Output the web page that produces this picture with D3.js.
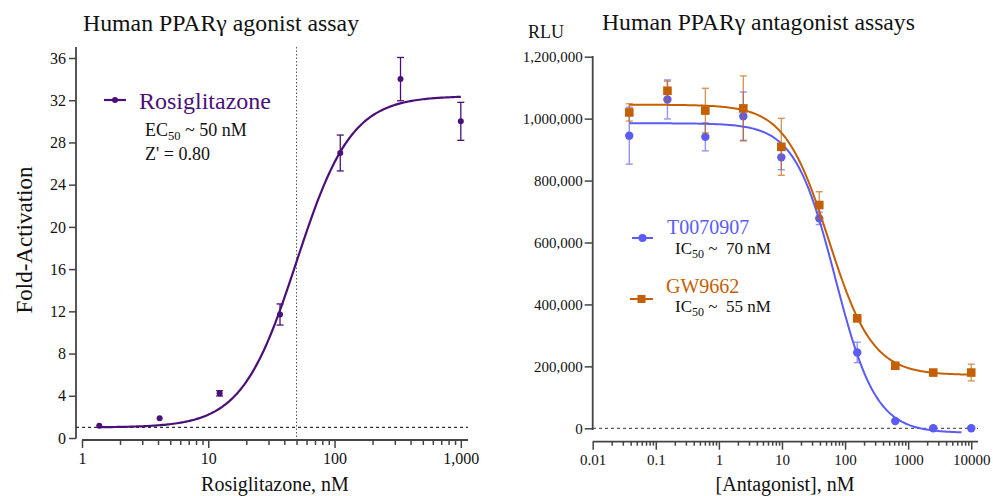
<html lang="en">
<head>
<meta charset="UTF-8">
<title>PPARg assays</title>
<script src="https://d3js.org/d3.v7.min.js"></script>
<style>
  body { margin: 0; background: #fff; }
  svg text { font-family: "Liberation Serif", "Times New Roman", serif; fill: #111; }
</style>
</head>
<body>
<svg id="chart" width="993" height="496"></svg>
<script>
// ---- agonist panel data (Rosiglitazone, 3-fold dilution) ----
const agoConc = [1.37, 4.12, 12.3, 37, 111, 333, 1000];
const agoFold = [1.17, 1.87, 4.23, 11.7, 27.0, 34.0, 30.0];
const agoErr  = [0.1, 0.1, 0.25, 1.0, 1.7, 2.05, 1.8];
// fit: bottom, top, EC50, hill
const agoFit  = [1.0, 32.4, 50, 2.0];
const agoYTicks = [0, 4, 8, 12, 16, 20, 24, 28, 32, 36];
const agoXTicks = [1, 10, 100, 1000];
const agoXLabels = ["1", "10", "100", "1,000"];

// ---- antagonist panel data (4-fold dilution) ----
const antConc = [0.038, 0.153, 0.61, 2.44, 9.77, 39, 156, 625, 2500, 10000];
const t007Rlu = [945000, 1062000, 941000, 1008000, 875000, 678000, 245000, 23600, 0, 0];
const t007Err = [92000, 63000, 45000, 78000, 40000, 20000, 33000, 0, 0, 0];
const gw96Rlu = [1020000, 1090000, 1026000, 1033000, 909000, 721000, 355000, 202000, 180000, 180000];
const gw96Err = [28000, 31000, 72000, 105000, 92000, 43000, 8000, 6000, 6000, 27000];
// fit: bottom, top, IC50, hill, last x of curve
const t007Fit = [-15000, 985000, 70, 1.35, 7000];
const gw96Fit = [172000, 1045000, 55, 1.25, 10000];
const antYTicks = [0, 200000, 400000, 600000, 800000, 1000000, 1200000];
const antXTicks = [0.01, 0.1, 1, 10, 100, 1000, 10000];
const antXLabels = ["0.01", "0.1", "1", "10", "100", "1000", "10000"];

const purple = "#4a1078", blue = "#5b5bf7", orange = "#c45f04", axisCol = "#444";

const svg = d3.select("#chart");

function logistic(p, x, falling) {
  // 4PL curve from the fitted parameters
  const r = Math.pow(p[2] / x, p[3]);
  return falling ? p[0] + (p[1] - p[0]) / (1 + 1 / r) : p[0] + (p[1] - p[0]) / (1 + r);
}

function curvePts(p, x0, x1, falling) {
  let pts = [];
  let a = Math.log10(x0), b = Math.log10(x1);
  for (let i = 0; i <= 200; i++) {
    let xv = Math.pow(10, a + (b - a) * i / 200);
    pts.push([xv, logistic(p, xv, falling)]);
  }
  return pts;
}

function styleTicks(g, size) {
  g.select(".domain").remove();
  g.selectAll("line").attr("stroke", axisCol).attr("stroke-width", 1.5);
  g.selectAll("text").attr("font-size", size).attr("fill", "#111")
    .style("font-family", '"Liberation Serif", serif');
}

// ================= LEFT PANEL =================
var xL = d3.scaleLog().domain([1, 1140]).range([82, 468]);
var yL = d3.scaleLinear().domain([0, 36]).range([438, 58]);

svg.append("text").attr("x", 83).attr("y", 31).attr("font-size", 23.8)
  .text("Human PPARγ agonist assay");

// y axis
svg.append("line").attr("x1", 76).attr("x2", 76).attr("y1", 47).attr("y2", 438.5)
  .attr("stroke", axisCol).attr("stroke-width", 1.8);
svg.append("g").attr("transform", "translate(76,0)")
  .call(d3.axisLeft(yL).tickValues(agoYTicks).tickSize(7).tickPadding(3))
  .call(g => styleTicks(g, 16));

// x axis
svg.append("line").attr("x1", 82).attr("x2", 468).attr("y1", 440).attr("y2", 440)
  .attr("stroke", axisCol).attr("stroke-width", 1.8);
svg.append("g").attr("transform", "translate(0,440)")
  .call(d3.axisBottom(xL).tickValues(xL.ticks().filter(d => agoXTicks.indexOf(d) < 0)).tickSize(5).tickFormat(""))
  .call(g => styleTicks(g, 16));
svg.append("g").attr("transform", "translate(0,440)")
  .call(d3.axisBottom(xL).tickValues(agoXTicks).tickSize(8).tickPadding(5)
    .tickFormat((d, i) => agoXLabels[i]))
  .call(g => styleTicks(g, 16));

// reference lines
svg.append("line").attr("x1", 76).attr("x2", 468).attr("y1", yL(1)).attr("y2", yL(1))
  .attr("stroke", "#333").attr("stroke-width", 1.2).attr("stroke-dasharray", "3,3");
svg.append("line").attr("x1", xL(50)).attr("x2", xL(50)).attr("y1", 47).attr("y2", 438)
  .attr("stroke", "#555").attr("stroke-width", 1).attr("stroke-dasharray", "1.5,2");

// fit curve
var lineL = d3.line().x(d => xL(d[0])).y(d => yL(d[1]));
svg.append("path").datum(curvePts(agoFit, agoConc[0], agoConc[agoConc.length - 1], false))
  .attr("d", lineL).attr("fill", "none").attr("stroke", purple).attr("stroke-width", 2.2);

// error bars + points
agoConc.forEach((c, i) => {
  let cx = xL(c);
  if (agoErr[i] > 0.15) {
    let y1 = yL(agoFold[i] + agoErr[i]), y2 = yL(agoFold[i] - agoErr[i]);
    svg.append("line").attr("x1", cx).attr("x2", cx).attr("y1", y1).attr("y2", y2)
      .attr("stroke", purple).attr("stroke-width", 1.3);
    [y1, y2].forEach(yy => svg.append("line").attr("x1", cx - 3.5).attr("x2", cx + 3.5)
      .attr("y1", yy).attr("y2", yy).attr("stroke", purple).attr("stroke-width", 1.3));
  }
  svg.append("circle").attr("cx", cx).attr("cy", yL(agoFold[i])).attr("r", 3).attr("fill", purple);
});

// legend
svg.append("line").attr("x1", 104).attr("x2", 126).attr("y1", 100).attr("y2", 100)
  .attr("stroke", purple).attr("stroke-width", 2.2);
svg.append("circle").attr("cx", 115).attr("cy", 100).attr("r", 3).attr("fill", purple);
svg.append("text").attr("x", 139).attr("y", 109).attr("font-size", 24).attr("fill", purple)
  .style("fill", purple).text("Rosiglitazone");
var ec = svg.append("text").attr("x", 145).attr("y", 136).attr("font-size", 18);
ec.append("tspan").text("EC");
ec.append("tspan").attr("font-size", 12.5).attr("dy", 4).text("50");
ec.append("tspan").attr("dy", -4).text(" ~ 50 nM");
svg.append("text").attr("x", 145).attr("y", 160).attr("font-size", 18).text("Z' = 0.80");

svg.append("text").attr("transform", "translate(32,240) rotate(-90)")
  .attr("text-anchor", "middle").attr("font-size", 23).text("Fold-Activation");
svg.append("text").attr("x", 275).attr("y", 491).attr("text-anchor", "middle")
  .attr("font-size", 20).text("Rosiglitazone, nM");

// ================= RIGHT PANEL =================
var xR = d3.scaleLog().domain([0.01, 12800]).range([592.7, 978]);
var yR = d3.scaleLinear().domain([0, 1200000]).range([428.3, 56.7]);

svg.append("text").attr("x", 602).attr("y", 30).attr("font-size", 23.7)
  .text("Human PPARγ antagonist assays");
svg.append("text").attr("x", 528).attr("y", 38).attr("font-size", 18).text("RLU");

svg.append("line").attr("x1", 592.7).attr("x2", 592.7).attr("y1", 56).attr("y2", 430)
  .attr("stroke", axisCol).attr("stroke-width", 1.8);
svg.append("g").attr("transform", "translate(592.7,0)")
  .call(d3.axisLeft(yR).tickValues(antYTicks).tickSize(8).tickPadding(2).tickFormat(d3.format(",")))
  .call(g => styleTicks(g, 15));

svg.append("line").attr("x1", 592.7).attr("x2", 978).attr("y1", 441.7).attr("y2", 441.7)
  .attr("stroke", axisCol).attr("stroke-width", 1.8);
svg.append("g").attr("transform", "translate(0,441.7)")
  .call(d3.axisBottom(xR).tickValues(xR.ticks().filter(d => antXTicks.indexOf(d) < 0)).tickSize(4).tickFormat(""))
  .call(g => styleTicks(g, 15));
svg.append("g").attr("transform", "translate(0,441.7)")
  .call(d3.axisBottom(xR).tickValues(antXTicks).tickSize(8).tickPadding(5)
    .tickFormat((d, i) => antXLabels[i]))
  .call(g => styleTicks(g, 15));

svg.append("line").attr("x1", 593).attr("x2", 978).attr("y1", yR(0)).attr("y2", yR(0))
  .attr("stroke", "#333").attr("stroke-width", 1).attr("stroke-dasharray", "3,3");

var lineR = d3.line().x(d => xR(d[0])).y(d => yR(d[1]));

function drawSeries(vals, errs, fit, col, marker) {
  svg.append("path").datum(curvePts(fit, antConc[0], fit[4], true))
    .attr("d", lineR).attr("fill", "none").attr("stroke", col).attr("stroke-width", 2);
  antConc.forEach((c, i) => {
    let cx = xR(c);
    if (errs[i] > 10000) {
      let y1 = yR(vals[i] + errs[i]), y2 = yR(vals[i] - errs[i]);
      let g = svg.append("g").attr("opacity", 0.65);
      g.append("line").attr("x1", cx).attr("x2", cx).attr("y1", y1).attr("y2", y2)
        .attr("stroke", col).attr("stroke-width", 1.4);
      [y1, y2].forEach(yy => g.append("line").attr("x1", cx - 3.5).attr("x2", cx + 3.5)
        .attr("y1", yy).attr("y2", yy).attr("stroke", col).attr("stroke-width", 1.4));
    }
    if (marker == "circle") {
      svg.append("circle").attr("cx", cx).attr("cy", yR(vals[i])).attr("r", 4.2).attr("fill", col);
    } else {
      svg.append("rect").attr("x", cx - 4.3).attr("y", yR(vals[i]) - 4.3)
        .attr("width", 8.6).attr("height", 8.6).attr("fill", col);
    }
  });
}
drawSeries(t007Rlu, t007Err, t007Fit, blue, "circle");
drawSeries(gw96Rlu, gw96Err, gw96Fit, orange, "square");

// legend
svg.append("line").attr("x1", 632).attr("x2", 653).attr("y1", 238).attr("y2", 238)
  .attr("stroke", blue).attr("stroke-width", 2);
svg.append("circle").attr("cx", 642.5).attr("cy", 238).attr("r", 4).attr("fill", blue);
svg.append("text").attr("x", 667).attr("y", 234).attr("font-size", 20).style("fill", blue).text("T0070907");
var ic1 = svg.append("text").attr("x", 675).attr("y", 254).attr("font-size", 17);
ic1.append("tspan").text("IC");
ic1.append("tspan").attr("font-size", 12).attr("dy", 4).text("50");
ic1.append("tspan").attr("dy", -4).text(" ~\u00a0 70 nM");

svg.append("line").attr("x1", 630).attr("x2", 653).attr("y1", 299).attr("y2", 299)
  .attr("stroke", orange).attr("stroke-width", 2);
svg.append("rect").attr("x", 637.5).attr("y", 295).attr("width", 8).attr("height", 8).attr("fill", orange);
svg.append("text").attr("x", 666).attr("y", 293).attr("font-size", 20).style("fill", orange).text("GW9662");
var ic2 = svg.append("text").attr("x", 675).attr("y", 312).attr("font-size", 17);
ic2.append("tspan").text("IC");
ic2.append("tspan").attr("font-size", 12).attr("dy", 4).text("50");
ic2.append("tspan").attr("dy", -4).text(" ~\u00a0 55 nM");

svg.append("text").attr("x", 785).attr("y", 491).attr("text-anchor", "middle")
  .attr("font-size", 20).text("[Antagonist], nM");
</script>
</body>
</html>
